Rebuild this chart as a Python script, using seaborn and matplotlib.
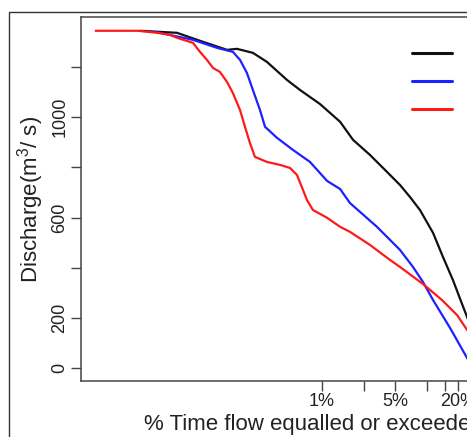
import matplotlib
matplotlib.use("Agg")
import matplotlib.pyplot as plt
from matplotlib.patches import Rectangle
import pandas as pd
import seaborn as sns

# flow duration curves (% time exceeded, discharge m3/s)
black_pct = [0.0183, 0.0412, 0.0730, 0.124, 0.154, 0.219, 0.298, 0.463, 0.617, 0.768,
             0.957, 1.49, 1.98, 2.87, 4.18, 5.56, 6.93, 8.63, 11.5, 14.3, 17.8, 24.3, 28.9]
black_q = [1345, 1337, 1301, 1269, 1273, 1257, 1221, 1149, 1109, 1081,
           1053, 982, 910, 850, 782, 730, 682, 630, 539, 443, 351, 203, 124]

blue_pct = [0.0254, 0.0586, 0.0993, 0.141, 0.165, 0.192, 0.219, 0.256, 0.286, 0.372,
            0.528, 0.768, 1.12, 1.49, 1.85, 3.35, 5.56, 7.40, 9.22, 11.5, 16.7, 24.3, 27.1]
blue_q = [1341, 1309, 1277, 1261, 1229, 1177, 1109, 1029, 962, 918,
          870, 822, 746, 714, 658, 563, 471, 403, 343, 271, 160, 40, 8]

red_pct = [0.0069, 0.0175, 0.0266, 0.0353, 0.0412, 0.0586, 0.0684, 0.0797, 0.0910, 0.106,
           0.124, 0.141, 0.165, 0.184, 0.205, 0.229, 0.298, 0.397, 0.495, 0.577,
           0.659, 0.719, 0.821, 1.12, 1.49, 1.85, 2.87, 4.46, 5.56, 9.22,
           14.0, 19.5, 24.3, 28.9]
red_q = [1345, 1345, 1337, 1329, 1317, 1297, 1261, 1229, 1197, 1181,
         1141, 1097, 1029, 962, 898, 842, 822, 810, 798, 770,
         710, 670, 630, 599, 563, 543, 491, 431, 403, 335,
         271, 211, 152, 112]

series_names = ["s1", "s2", "s3"]
series_colors = ["#111111", "#1f1fff", "#ff1a1a"]

x_ticks = [1, 2.5, 5, 10, 15, 20]
x_ticklabels = ["1%", "", "5%", "", "", "20%"]
y_ticks = [0, 200, 400, 600, 800, 1000, 1200]
y_ticklabels = ["0", "200", "", "600", "", "1000", ""]

df = pd.concat([
    pd.DataFrame({"pct": black_pct, "q": black_q, "series": series_names[0]}),
    pd.DataFrame({"pct": blue_pct, "q": blue_q, "series": series_names[1]}),
    pd.DataFrame({"pct": red_pct, "q": red_q, "series": series_names[2]}),
])

sns.set_style("white")
plt.rcParams["font.family"] = ["Liberation Sans", "DejaVu Sans"]
plt.rcParams["mathtext.default"] = "regular"

fig = plt.figure(figsize=(4.67, 4.37), dpi=100)
ax = fig.add_axes([81 / 467, 56 / 437, 465.7 / 467, 363.5 / 437])

sns.lineplot(data=df, x="pct", y="q", hue="series", palette=series_colors,
             estimator=None, sort=False, linewidth=1.6, legend=False, ax=ax)

ax.set_xscale("log")
ax.set_xlim(0.005, 140)
ax.set_ylim(-52, 1398)

ax.set_xticks(x_ticks)
ax.set_xticklabels(x_ticklabels)
ax.minorticks_off()
ax.set_yticks(y_ticks)
ax.set_yticklabels(y_ticklabels, rotation=90, va="center")

ax.tick_params(axis="both", direction="out", length=7.5, width=1, color="#444444",
               labelsize=13, labelcolor="#222222")
ax.tick_params(axis="y", pad=1.5, left=True)
ax.tick_params(axis="x", pad=1, bottom=True)

for s in ax.spines.values():
    s.set_color("#444444")
    s.set_linewidth(1.1)

ax.set_xlabel("% Time flow equalled or exceeded", fontsize=16, color="#222222", labelpad=3)
ax.set_ylabel("Discharge(m$^3$/ s)", fontsize=16, color="#222222", labelpad=4)

# legend (labels fall outside the visible area)
ax.legend(handles=ax.lines[:3], labels=["", "", ""], frameon=False, loc="upper left",
          bbox_to_anchor=(412 / 467, 1 - 46 / 437), bbox_transform=fig.transFigure,
          borderpad=0, borderaxespad=0, handlelength=2.2, handletextpad=0.3,
          labelspacing=0.62, fontsize=13)
for ln in ax.get_legend().get_lines():
    ln.set_linewidth(2.2)

# outer frame
fig.patches.append(Rectangle((9 / 467, -0.1), 2, 1 - 12 / 437 + 0.1, fill=False,
                             edgecolor="#333333", linewidth=1, transform=fig.transFigure))

fig.savefig("out.png", dpi=100)
